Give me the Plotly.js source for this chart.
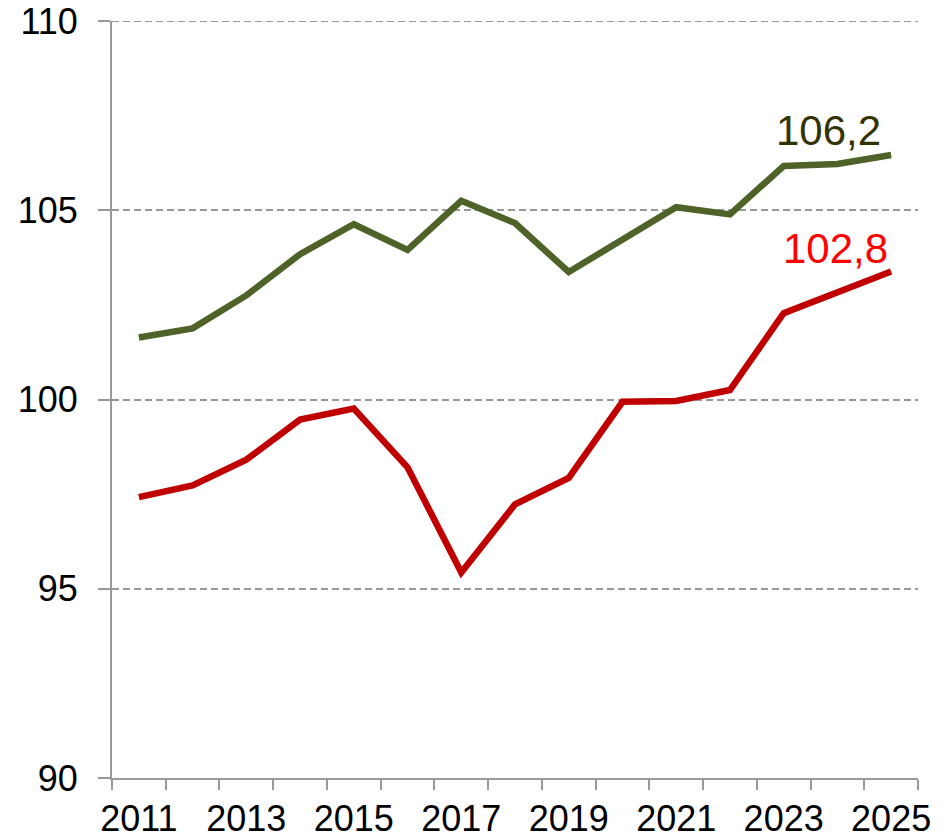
<!DOCTYPE html>
<html>
<head>
<meta charset="utf-8">
<script src="https://cdn.plot.ly/plotly-3.0.1.min.js"></script>
<style>html,body{margin:0;padding:0;background:#fff;}#chart{width:950px;height:840px;}</style>
</head>
<body>
<div id="chart"></div>
<script>
const years = [2011,2012,2013,2014,2015,2016,2017,2018,2019,2020,2021,2022,2023,2024,2025];
const greenSeries = [101.64,101.88,102.75,103.84,104.63,103.95,105.25,104.66,103.37,104.21,105.08,104.89,106.17,106.22,106.46];
const redSeries = [97.42,97.73,98.41,99.47,99.76,98.21,95.43,97.23,97.93,99.94,99.96,100.25,102.28,102.84,103.38];
const xTickLabels = ['2011','2013','2015','2017','2019','2021','2023','2025'];
const xTickVals = [2011,2013,2015,2017,2019,2021,2023,2025];
const greenLabel = '106,2';
const redLabel = '102,8';

const font = 'Liberation Sans, Arial, sans-serif';
const gridColor = '#999999';
const data = [
  {x: years, y: greenSeries, type: 'scatter', mode: 'lines', line: {color: '#4F6228', width: 6.5}, hoverinfo: 'skip'},
  {x: years, y: redSeries, type: 'scatter', mode: 'lines', line: {color: '#C00000', width: 6.5}, hoverinfo: 'skip'}
];
const layout = {
  width: 950, height: 840,
  margin: {l: 112, r: 32, t: 21, b: 62},
  paper_bgcolor: '#fff', plot_bgcolor: '#fff',
  showlegend: false,
  font: {family: font, size: 36, color: '#000'},
  xaxis: {
    range: [2010.5, 2025.5],
    tickmode: 'array', tickvals: xTickVals, ticktext: xTickLabels,
    ticks: '', showgrid: false, zeroline: false,
    showline: true, linecolor: gridColor, linewidth: 2,
    tickfont: {family: font, size: 36, color: '#000'},
    ticklabelstandoff: 8,
    minor: {tick0: 2010.5, dtick: 1, ticks: 'outside', ticklen: 10, tickwidth: 2, tickcolor: gridColor, showgrid: false}
  },
  yaxis: {
    range: [90, 110], tickmode: 'linear', tick0: 90, dtick: 5,
    ticks: 'outside', ticklen: 12, tickwidth: 2, tickcolor: gridColor,
    showline: true, linecolor: gridColor, linewidth: 2,
    showgrid: true, gridcolor: gridColor, gridwidth: 2, griddash: '7px,4px',
    zeroline: false,
    tickfont: {family: font, size: 36, color: '#000'},
    ticklabelstandoff: 13
  },
  shapes: [
    {type: 'line', xref: 'paper', yref: 'y', x0: 0, x1: 1, y0: 110, y1: 110, line: {color: gridColor, width: 2, dash: '7px,4px'}, layer: 'below'}
  ],
  annotations: [
    {x: 2023.84, y: 107.1, xref: 'x', yref: 'y', text: greenLabel, showarrow: false, xanchor: 'center', yanchor: 'middle', font: {family: font, size: 42, color: '#333300'}},
    {x: 2023.96, y: 103.98, xref: 'x', yref: 'y', text: redLabel, showarrow: false, xanchor: 'center', yanchor: 'middle', font: {family: font, size: 42, color: '#FF0000'}}
  ]
};
Plotly.newPlot('chart', data, layout, {staticPlot: true, displayModeBar: false});
</script>
</body>
</html>
